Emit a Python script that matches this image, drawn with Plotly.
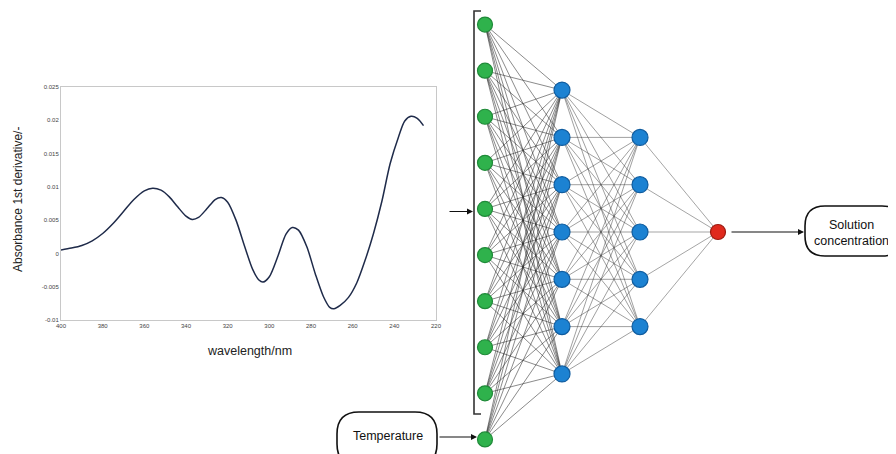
import plotly.graph_objects as go

# ---------------- data: spectrum ----------------
wavelength = [400, 395, 390, 385, 380, 375, 370, 365, 360, 356, 352, 348, 344, 340,
              337, 334, 330, 326, 323, 320, 316, 312, 308, 305, 303, 300, 296, 292,
              289, 286, 282, 278, 274, 271, 269, 266, 262, 258, 254, 250, 246, 242,
              238, 235, 232, 229, 226]
absorbance_d1 = [0.0005, 0.0008, 0.0012, 0.0019, 0.0030, 0.0045, 0.0063, 0.0081, 0.0094,
                 0.0098, 0.0095, 0.0085, 0.0070, 0.0056, 0.0051, 0.0054, 0.0067, 0.0081,
                 0.0084, 0.0077, 0.0050, 0.0012, -0.0024, -0.0040, -0.0043, -0.0035,
                 -0.0005, 0.0029, 0.0039, 0.0035, 0.0010, -0.0030, -0.0065, -0.0081,
                 -0.0083, -0.0078, -0.0066, -0.0044, -0.0010, 0.0030, 0.0078, 0.0135,
                 0.0175, 0.0199, 0.0206, 0.0203, 0.0192]

x_tick_vals = [400, 380, 360, 340, 320, 300, 280, 260, 240, 220]
x_tick_text = ["400", "380", "360", "340", "320", "300", "280", "260", "240", "220"]
y_tick_vals = [0.025, 0.02, 0.015, 0.01, 0.005, 0, -0.005, -0.01]
y_tick_text = ["0.025", "0.02", "0.015", "0.01", "0.005", "0", "-0.005", "-0.01"]

# ---------------- data: network ----------------
layer_sizes = [10, 7, 5, 1]          # input (incl. temperature), hidden1, hidden2, output
input_label = "Temperature"
output_label = "Solution<br>concentration"

# ---------------- layout constants (window pixels) ----------------
WIN_W, WIN_H = 896, 454
OFF = 8                      # page body margin
W, H = WIN_W - OFF, WIN_H - OFF
layer_x = [485, 562, 640, 718]
layer_spacing = [46.1, 47.3, 47.3, 0]
center_y = 232
node_fill = ["#2fb24c", "#1c82d2", "#1c82d2", "#e0291d"]
node_line = ["#1f8a38", "#0f5c9f", "#0f5c9f", "#9c1a10"]
node_size = [15, 16, 16, 15]
edge_color = ["rgba(40,40,40,0.72)", "rgba(60,60,60,0.65)", "rgba(70,70,70,0.65)"]

FONT = "Arial, Liberation Sans, sans-serif"


def px(x):
    return (x - OFF) / W


def py(y):
    return 1 - (y - OFF) / H


fig = go.Figure()

# spectrum
fig.add_trace(go.Scatter(
    x=wavelength, y=absorbance_d1, mode="lines",
    line=dict(color="#1f2b4a", width=1.5, shape="spline", smoothing=0.8),
    xaxis="x", yaxis="y", hoverinfo="skip", showlegend=False))

# network node positions
positions = []
for li, n in enumerate(layer_sizes):
    pts = []
    for i in range(n):
        pts.append((layer_x[li], center_y + (i - (n - 1) / 2) * layer_spacing[li]))
    positions.append(pts)

for li in range(len(layer_sizes) - 1):
    ex, ey = [], []
    for (x0, y0) in positions[li]:
        for (x1, y1) in positions[li + 1]:
            ex += [x0, x1, None]
            ey += [y0, y1, None]
    fig.add_trace(go.Scatter(
        x=ex, y=ey, mode="lines", line=dict(color=edge_color[li], width=0.75),
        xaxis="x2", yaxis="y2", hoverinfo="skip", showlegend=False))

for li, pts in enumerate(positions):
    fig.add_trace(go.Scatter(
        x=[p[0] for p in pts], y=[p[1] for p in pts], mode="markers",
        marker=dict(size=node_size[li], color=node_fill[li],
                    line=dict(color=node_line[li], width=1.2)),
        xaxis="x2", yaxis="y2", hoverinfo="skip", showlegend=False))


def rounded_rect(x0, y0, x1, y1, r):
    return (f"M {x0 + r},{y0} L {x1 - r},{y0} Q {x1},{y0} {x1},{y0 + r} "
            f"L {x1},{y1 - r} Q {x1},{y1} {x1 - r},{y1} L {x0 + r},{y1} "
            f"Q {x0},{y1} {x0},{y1 - r} L {x0},{y0 + r} Q {x0},{y0} {x0 + r},{y0} Z")


shapes = [
    dict(type="path", path=rounded_rect(337, 412, 437, 466, 22), xref="x2", yref="y2",
         line=dict(color="#111", width=1.6), fillcolor="white", layer="below"),
    dict(type="path", path=rounded_rect(805, 206, 902, 256, 20), xref="x2", yref="y2",
         line=dict(color="#111", width=1.6), fillcolor="white", layer="below"),
    # bracket
    dict(type="path", path="M 481,11 L 474,11 L 474,414 L 481,414", xref="x2", yref="y2",
         line=dict(color="#333", width=1.6)),
]

annotations = [
    dict(text="Absorbance 1st derivative/-", x=px(18), y=py(200), xref="paper", yref="paper",
         xanchor="center", yanchor="middle",
         textangle=-90, showarrow=False, font=dict(family=FONT, size=12, color="#222")),
    dict(text="wavelength/nm", x=px(249), y=py(351), xref="paper", yref="paper",
         xanchor="center", yanchor="middle",
         showarrow=False, font=dict(family=FONT, size=12.5, color="#222")),
    dict(text=input_label, x=388, y=436, xref="x2", yref="y2", showarrow=False,
         xanchor="center", yanchor="middle", font=dict(family=FONT, size=12.5, color="#111")),
    dict(text=output_label, x=851, y=233, xref="x2", yref="y2", showarrow=False,
         xanchor="center", yanchor="middle", font=dict(family=FONT, size=12.5, color="#111")),
]
for (x0, y0, x1, y1) in [(448, 211.5, 473, 211.5), (438, 437, 477, 437), (730, 232, 804, 232)]:
    annotations.append(dict(x=x1, y=y1, ax=x0, ay=y0, xref="x2", yref="y2", axref="x2", ayref="y2",
                            text="", showarrow=True, arrowhead=2, arrowsize=1, arrowwidth=1.2,
                            arrowcolor="#111"))

fig.update_layout(
    width=W, height=H, margin=dict(l=0, r=0, t=0, b=0, pad=0, autoexpand=False),
    paper_bgcolor="white", plot_bgcolor="rgba(0,0,0,0)",
    showlegend=False, shapes=shapes, annotations=annotations,
    xaxis=dict(domain=[px(61), px(436)], range=[400, 220], tickvals=x_tick_vals, ticktext=x_tick_text,
               showgrid=False, zeroline=False, showline=True, mirror=True, linecolor="#c8c8c8",
               linewidth=1, ticks="", tickfont=dict(family=FONT, size=6, color="#444"), anchor="y"),
    yaxis=dict(domain=[py(320), py(87)], range=[-0.01, 0.025], tickvals=y_tick_vals,
               ticktext=y_tick_text, showgrid=False, zeroline=False, showline=True, mirror=True,
               linecolor="#c8c8c8", linewidth=1, ticks="",
               tickfont=dict(family=FONT, size=6, color="#444"), anchor="x"),
    xaxis2=dict(domain=[0, 1], range=[OFF, WIN_W], visible=False, anchor="y2", fixedrange=True),
    yaxis2=dict(domain=[0, 1], range=[WIN_H, OFF], visible=False, anchor="x2", fixedrange=True),
)

fig.write_html("out.html")
